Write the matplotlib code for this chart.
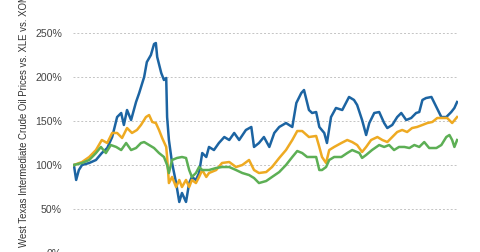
import matplotlib
matplotlib.use('Agg')
import matplotlib.pyplot as plt
from matplotlib.ticker import FuncFormatter

# months since start of period, value indexed to 100%
wti_month = [0.2, 0.7, 1.3, 2.0, 3.6, 5.1, 6.4, 7.6, 8.7, 9.8, 10.7, 11.3, 12.0, 12.9,
             14.0, 14.7, 15.8, 16.4, 17.3, 18.0, 18.4, 18.7, 19.6, 20.2, 20.7, 20.9,
             21.3, 22.0, 22.9, 23.6, 24.2, 25.1, 25.8, 26.4, 27.3, 28.0, 28.7, 29.6,
             30.2, 31.3, 32.4, 33.6, 34.7, 35.8, 36.9, 38.4, 39.6, 40.2, 41.3, 42.4,
             43.6, 44.7, 45.8, 47.3, 48.7, 49.6, 50.7, 51.3, 52.4, 53.1, 54.0, 54.7,
             55.8, 56.4, 57.3, 58.4, 59.8, 61.3, 62.4, 63.1, 64.2, 65.1, 65.8, 66.9,
             68.0, 69.1, 69.8, 70.9, 72.0, 72.9, 74.0, 75.1, 76.2, 76.9, 77.6, 78.4,
             79.6, 80.7, 81.8, 82.9, 84.0, 84.7, 85.3]
wti = [100.0, 83.0, 94.3, 100.0, 102.3, 105.7, 113.6, 119.3, 131.8, 154.5, 159.1, 145.5,
       162.5, 151.1, 171.6, 181.8, 200.0, 217.0, 225.0, 237.5, 238.6, 222.7, 204.5,
       196.6, 198.9, 154.5, 128.4, 102.3, 79.5, 58.0, 68.2, 58.0, 79.5, 86.4, 83.0,
       90.9, 113.6, 109.1, 120.5, 117.0, 125.0, 131.8, 128.4, 136.4, 128.4, 139.8,
       143.2, 120.5, 125.0, 131.8, 120.5, 136.4, 143.2, 147.7, 143.2, 170.5, 181.8,
       185.2, 162.5, 159.1, 160.2, 143.2, 136.4, 125.0, 154.5, 164.8, 162.5, 177.3,
       173.9, 168.2, 151.1, 134.1, 147.7, 159.1, 160.2, 147.7, 142.0, 145.5, 154.5,
       159.1, 151.1, 153.4, 159.1, 160.2, 173.9, 176.1, 177.3, 165.9, 154.5, 154.5,
       160.2, 164.8, 171.6]

xle_month = [0.2, 2.0, 3.6, 5.1, 6.4, 7.6, 8.7, 9.8, 10.9, 12.0, 13.1, 14.2, 15.1, 16.2,
             16.9, 17.6, 18.4, 19.1, 19.8, 20.7, 20.9, 21.3, 22.0, 22.9, 23.6, 24.2,
             25.1, 25.8, 26.4, 27.3, 28.0, 28.7, 29.6, 30.2, 31.8, 33.1, 34.7, 36.2,
             37.6, 39.1, 40.2, 41.3, 42.9, 44.2, 45.8, 47.3, 48.7, 49.8, 50.9, 52.4,
             54.0, 54.7, 55.3, 56.2, 56.9, 58.0, 59.6, 60.9, 62.0, 63.1, 64.2, 65.1,
             66.2, 67.6, 68.7, 69.8, 70.9, 72.0, 73.1, 74.2, 75.3, 76.4, 77.6, 78.7,
             79.8, 80.9, 82.0, 83.1, 84.2, 85.3]
xle = [100.0, 103.4, 109.1, 117.0, 128.4, 125.0, 136.4, 136.4, 130.7, 142.0, 136.4,
       139.8, 145.5, 154.5, 156.8, 148.9, 147.7, 139.8, 130.7, 120.5, 109.1, 79.5,
       86.4, 75.0, 83.0, 75.0, 83.0, 75.0, 83.0, 79.5, 86.4, 94.3, 86.4, 90.9, 94.3,
       102.3, 103.4, 97.7, 100.0, 105.7, 94.3, 90.9, 92.0, 97.7, 108.0, 117.0, 128.4,
       138.6, 138.6, 131.8, 133.0, 120.5, 109.1, 102.3, 117.0, 120.5, 125.0, 128.4,
       126.1, 122.7, 114.8, 120.5, 128.4, 131.8, 128.4, 126.1, 131.8, 137.5, 139.8,
       137.5, 142.0, 143.2, 145.5, 147.7, 148.9, 153.4, 153.4, 153.4, 147.7, 154.5]

xom_month = [0.2, 2.0, 3.6, 5.1, 6.2, 7.3, 8.4, 9.6, 10.7, 11.8, 12.9, 14.0, 15.1, 15.8,
             16.9, 18.0, 19.1, 20.2, 20.9, 21.3, 22.0, 23.1, 24.2, 25.1, 25.8, 26.4,
             27.3, 28.0, 28.7, 30.2, 31.8, 33.1, 34.7, 36.2, 37.6, 39.1, 40.2, 41.3,
             42.9, 44.2, 45.8, 47.3, 48.7, 49.8, 50.9, 52.0, 54.0, 54.7, 55.3, 56.2,
             56.9, 58.0, 59.6, 60.9, 62.0, 63.6, 64.2, 65.1, 66.4, 68.0, 69.1, 70.2,
             71.3, 72.4, 73.6, 74.7, 75.8, 76.9, 78.0, 79.1, 80.7, 81.8, 82.9, 83.6,
             84.2, 84.7, 85.3]
xom = [100.0, 102.3, 105.7, 113.6, 120.5, 113.6, 122.7, 120.5, 117.0, 125.0, 117.0,
       119.3, 125.0, 126.1, 122.7, 119.3, 113.6, 109.1, 100.0, 90.9, 105.7, 108.0,
       109.1, 108.0, 94.3, 86.4, 90.9, 97.7, 94.3, 94.3, 96.6, 97.7, 97.7, 94.3, 90.9,
       88.6, 85.2, 79.5, 81.8, 86.4, 92.0, 100.0, 109.1, 115.9, 113.6, 109.1, 109.1,
       94.3, 94.3, 97.7, 105.7, 109.1, 109.1, 113.6, 117.0, 113.6, 108.0, 111.4,
       117.0, 122.7, 120.5, 122.7, 117.0, 120.5, 120.5, 119.3, 122.7, 120.5, 126.1,
       119.3, 119.3, 122.7, 131.8, 134.1, 128.4, 120.5, 128.4]

y_ticks = [0, 50, 100, 150, 200, 250]
y_label = 'West Texas Intermediate Crude Oil Prices vs. XLE vs. XOM'

plt.rcParams['font.family'] = ['Liberation Sans', 'DejaVu Sans']

fig = plt.figure(figsize=(4.8, 2.52), dpi=100)
ax = fig.add_axes([73 / 480, -1 / 252, 385 / 480, 220 / 252])

ax.plot(wti_month, wti, color='#1c64a2', linewidth=1.8)
ax.plot(xle_month, xle, color='#eeaa22', linewidth=1.8)
ax.plot(xom_month, xom, color='#5daf55', linewidth=1.8)

ax.set_xlim(0, 85.5)
ax.set_ylim(0, 250)
ax.set_yticks(y_ticks)
ax.yaxis.set_major_formatter(FuncFormatter(lambda v, p: '%d%%' % v))
ax.set_xticks([])
ax.tick_params(axis='y', length=0, pad=8, labelsize=7.6, labelcolor='#444444')
ax.grid(axis='y', color='#c4c4c4', linestyle=(0, (2, 2)), linewidth=0.7)
ax.set_axisbelow(True)
for s in ax.spines.values():
    s.set_visible(False)

fig.text(24 / 480, 1 - 247 / 252, y_label, rotation=90, ha='center', va='bottom',
         fontsize=6.9, color='#333333')

fig.savefig('out.png', dpi=100)
